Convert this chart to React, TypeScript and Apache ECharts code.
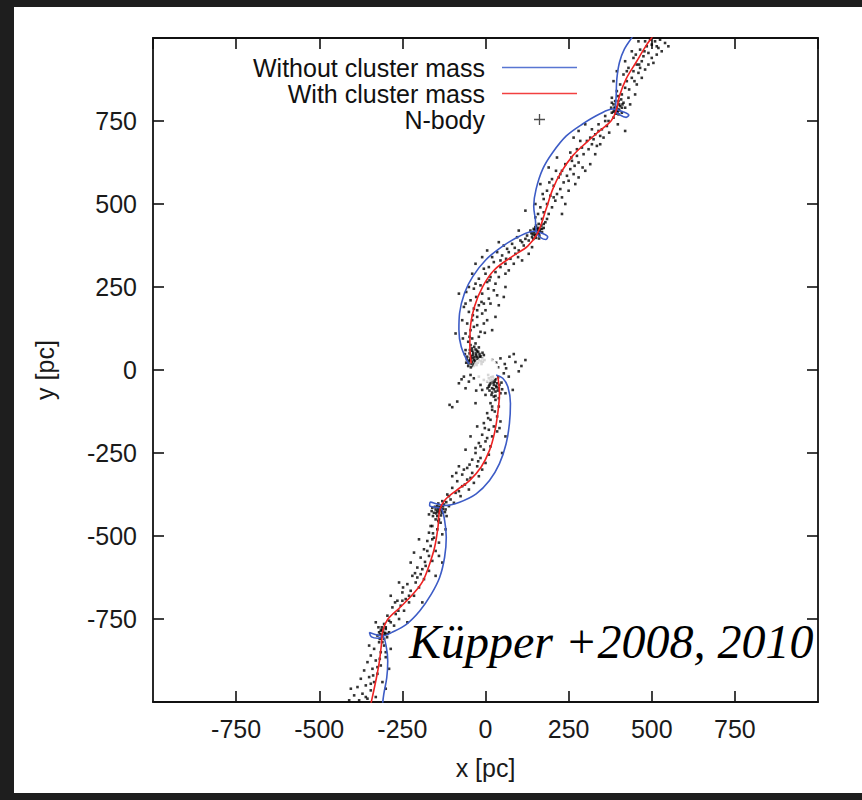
import React, { useEffect, useRef } from "react";
import * as echarts from "echarts";

// Axis range and tick spacing (pc)
const AXIS_MIN = -1000;
const AXIS_MAX = 1000;
const TICK_STEP = 250;

const SERIES_NO_MASS = "Without cluster mass";
const SERIES_MASS = "With cluster mass";
const SERIES_NBODY = "N-body";
const CREDIT = "Küpper +2008, 2010";

// Epicyclic orbit tracks, leading (upper) and trailing (lower) arms, [x, y] in pc
const noMassLeading: [number, number][] = [
  [-50, 18], [-73, 70], [-80, 121], [-78, 171], [-63, 232], [-38, 282], [2, 333], [52, 373],
  [102, 403], [147, 418], [172, 411], [187, 401], [182, 393], [167, 398], [154, 413], [150, 453],
  [145, 494], [152, 544], [172, 605], [202, 655], [243, 705], [292, 741], [343, 771], [383, 786],
  [413, 778], [431, 768], [423, 761], [405, 768], [391, 781], [393, 826], [395, 877], [403, 927],
  [418, 967], [438, 998], [446, 1010],
];
const noMassTrailing: [number, number][] = [
  [32, -15], [52, -25], [67, -50], [75, -101], [72, -161], [62, -222], [42, -282], [12, -333],
  [-28, -373], [-78, -398], [-123, -408], [-148, -403], [-165, -398], [-168, -408], [-153, -413],
  [-133, -418], [-123, -453], [-118, -504], [-123, -564], [-138, -625], [-163, -675], [-198, -726],
  [-238, -766], [-283, -791], [-309, -801], [-334, -796], [-349, -791], [-343, -804], [-324, -808],
  [-309, -804], [-298, -836], [-294, -877], [-297, -927], [-306, -977], [-310, -1010],
];
const massLeading: [number, number][] = [
  [-43, 20], [-47, 70], [-46, 121], [-33, 191], [-8, 252], [27, 302], [82, 343], [127, 373],
  [157, 413], [182, 484], [202, 544], [227, 595], [262, 645], [303, 685], [343, 720], [378, 751],
  [393, 781], [403, 826], [423, 877], [453, 927], [483, 977], [498, 998], [505, 1010],
];
const massTrailing: [number, number][] = [
  [37, -20], [42, -70], [37, -130], [27, -190], [12, -242], [-13, -292], [-48, -333], [-88, -363],
  [-123, -393], [-138, -423], [-143, -474], [-153, -534], [-168, -584], [-188, -635], [-218, -675],
  [-258, -716], [-294, -751], [-309, -786], [-313, -826], [-319, -877], [-328, -927], [-343, -998],
  [-346, -1010],
];

// N-body particle positions, [x, y] in pc
const nBodyLeading: [number, number][] = [
  [-40, 25], [-35, 30], [-30, 22], [-45, 35], [-25, 40], [-50, 28], [-20, 30], [-38, 45], [-28, 50],
  [-15, 42], [-42, 18], [-33, 38], [-22, 55], [-48, 50], [-10, 35], [-55, 40], [-30, 62], [-18, 48],
  [-8, 25], [-36, 12], [-52, 12], [-44, 8], [-27, 15], [-58, 22], [-40, 58], [-12, 18], [-5, 45],
  [-62, 48], [-34, 70], [-20, 68], [20, 30], [32, 22], [45, 35], [58, 18], [72, 40], [90, 24],
  [108, 12], [120, 30], [62, 5], [38, 8], [85, 48], [100, -4], [-60, 60], [-45, 75], [-68, 95],
  [-90, 110], [-46, 30], [-39, 36], [-31, 28], [-24, 34], [-17, 40], [-43, 42], [-51, 20],
  [-29, 44], [-37, 52], [-14, 26], [-23, 22], [-47, 60], [-9, 52], [-3, 30], [-56, 32], [-26, 58],
  [-34, 18], [-41, 65],
  [-52, 85], [-40, 95], [-30, 80], [-20, 100], [-60, 110], [-45, 120], [-35, 130], [-15, 115],
  [-5, 140], [-55, 140], [-40, 150], [-25, 160], [-10, 170], [5, 150], [-50, 175], [-35, 185],
  [-20, 195], [0, 180], [15, 200], [-45, 210], [-28, 220], [-10, 230], [10, 215], [25, 240],
  [-35, 245], [-15, 255], [5, 265], [30, 260], [-65, 190], [-70, 150], [40, 195], [55, 220],
  [20, 120], [-80, 230], [-48, 100], [-38, 165], [-12, 205], [-58, 235], [8, 245], [35, 225],
  [-25, 135], [-2, 112], [30, 160], [60, 250], [-30, 260], [-50, 250], [-60, 200], [-25, 180],
  [-5, 200], [12, 270], [40, 280],
  [-20, 275], [0, 290], [15, 280], [30, 295], [45, 310], [10, 310], [60, 320], [-5, 305], [25, 325],
  [75, 335], [50, 345], [90, 350], [35, 355], [65, 365], [100, 360], [115, 375], [80, 380],
  [130, 390], [140, 400], [120, 395], [150, 405], [145, 415], [160, 420], [155, 410], [165, 425],
  [150, 430], [170, 415], [135, 420], [-10, 340], [5, 360], [40, 385], [95, 400], [110, 330],
  [130, 350], [60, 290], [-30, 320], [100, 420], [152, 398], [158, 428], [162, 405], [148, 422],
  [168, 435], [175, 428], [142, 408], [85, 320], [20, 340], [70, 300], [140, 370], [55, 375],
  [105, 390], [-40, 290], [70, 355], [45, 330], [88, 368], [110, 385], [125, 405], [98, 340],
  [62, 335], [153, 418], [160, 412], [149, 408], [163, 418], [156, 424], [145, 425], [170, 425],
  [138, 412], [161, 396], [152, 435], [144, 395], [175, 440],
  [160, 440], [170, 455], [180, 445], [150, 460], [175, 475], [190, 470], [165, 490], [185, 500],
  [200, 490], [210, 510], [175, 515], [195, 525], [215, 530], [185, 540], [205, 555], [225, 545],
  [235, 565], [200, 575], [220, 580], [245, 585], [230, 600], [255, 605], [265, 590], [240, 620],
  [260, 630], [280, 625], [275, 645], [295, 650], [255, 655], [290, 670], [310, 665], [305, 690],
  [325, 695], [285, 690], [330, 710], [345, 705], [320, 725], [350, 725], [365, 735], [340, 740],
  [370, 750], [385, 760], [360, 765], [380, 775], [395, 780], [390, 790], [400, 785], [405, 795],
  [385, 800], [410, 775], [230, 520], [250, 540], [270, 560], [280, 580], [300, 600], [315, 620],
  [240, 500], [150, 500], [165, 560], [190, 610], [215, 640], [265, 700], [300, 740], [420, 720],
  [280, 720], [330, 650], [345, 680], [120, 480], [230, 470], [158, 470], [172, 530], [192, 565],
  [212, 600], [250, 570], [268, 615], [292, 610], [335, 675], [355, 700], [372, 715], [398, 740],
  [392, 772], [402, 800], [388, 782], [378, 790], [185, 455], [205, 520], [225, 590], [258, 640],
  [275, 665], [315, 700], [340, 720], [360, 750], [320, 680], [392, 785], [397, 778], [388, 790],
  [402, 782], [395, 792], [385, 778], [410, 790], [400, 770], [380, 805], [412, 800], [390, 810],
  [420, 790],
  [400, 810], [410, 830], [395, 840], [420, 850], [430, 820], [405, 860], [425, 870], [440, 880],
  [415, 890], [445, 900], [460, 895], [430, 910], [455, 920], [470, 930], [445, 940], [475, 945],
  [490, 955], [465, 965], [485, 975], [500, 980], [480, 990], [510, 990], [520, 970], [500, 940],
  [530, 960], [455, 860], [470, 880], [385, 870], [395, 900], [420, 930], [440, 960], [460, 990],
  [540, 985], [505, 925], [380, 820], [435, 800], [450, 830], [490, 920], [515, 950], [408, 815],
  [398, 825], [415, 805], [465, 910], [480, 905], [525, 995], [550, 975], [432, 845], [448, 870],
  [462, 920], [478, 960], [495, 995], [515, 975], [425, 900], [452, 950],
];
const nBodyTrailing: [number, number][] = [
  [10, -25], [20, -30], [30, -28], [15, -40], [25, -45], [35, -40], [5, -35], [40, -55], [20, -55],
  [30, -65], [10, -50], [-5, -30], [22, -20], [28, -35], [38, -22], [12, -62], [45, -70], [18, -75],
  [32, -48], [8, -15], [48, -38], [25, -58], [-20, -20], [-35, -25], [-50, -35], [-65, -20],
  [-80, -40], [-60, -55], [-45, -15], [-72, -28], [55, -10], [70, -20], [60, -70], [-10, -60],
  [0, -75], [25, -80], [-30, -100], [-85, -95], [-108, -105], [-100, -112], [82, -60],
  [15, -32], [24, -38], [33, -52], [12, -45], [27, -27], [37, -62], [20, -68], [42, -45], [6, -55],
  [17, -22], [50, -58], [30, -78], [40, -85], [-15, -45], [-28, -62],
  [30, -90], [15, -100], [40, -110], [20, -120], [5, -130], [35, -140], [15, -150], [45, -155],
  [-5, -160], [25, -170], [10, -180], [35, -185], [-10, -195], [20, -200], [0, -215], [-20, -220],
  [15, -230], [-5, -240], [-30, -250], [10, -255], [-15, -265], [-40, -270], [0, -280], [-25, -290],
  [-55, -295], [-10, -300], [-40, -310], [-70, -315], [-20, -320], [-55, -330], [-85, -335],
  [-35, -340], [-70, -350], [-100, -355], [-50, -360], [-90, -370], [-115, -375], [-75, -380],
  [-105, -390], [-130, -395], [-95, -400], [-125, -405], [-145, -410], [-135, -415], [-150, -420],
  [-140, -425], [-130, -430], [-155, -430], [-145, -440], [-160, -415], [-120, -420], [-170, -435],
  [-110, -410], [-60, -240], [-45, -200], [-25, -170], [60, -200], [50, -250], [-80, -290],
  [-100, -320], [28, -125], [42, -175], [-15, -230], [-48, -285], [-62, -345], [-118, -398],
  [-138, -412], [-148, -432], [-128, -418], [-142, -402], [-162, -425], [5, -205], [-88, -310],
  [20, -110], [8, -145], [-2, -175], [-30, -235], [-22, -275], [-65, -300], [-45, -325],
  [-110, -380], [-80, -365], [-136, -420], [-142, -418], [-131, -424], [-146, -426], [-139, -430],
  [-128, -410], [-152, -412], [-134, -438], [-122, -428], [-158, -440], [-140, -450], [-117, -440],
  [-150, -450], [-135, -460], [-160, -470], [-145, -480], [-170, -490], [-130, -495], [-155, -505],
  [-175, -515], [-140, -520], [-165, -530], [-185, -540], [-150, -545], [-170, -560], [-195, -565],
  [-160, -575], [-180, -590], [-205, -595], [-170, -605], [-195, -615], [-220, -620], [-185, -630],
  [-210, -640], [-235, -645], [-200, -655], [-225, -665], [-250, -670], [-215, -680], [-240, -690],
  [-265, -695], [-230, -700], [-255, -710], [-280, -715], [-245, -725], [-270, -735], [-295, -740],
  [-260, -750], [-285, -760], [-305, -765], [-275, -770], [-300, -780], [-315, -785], [-295, -795],
  [-310, -800], [-320, -790], [-305, -810], [-120, -480], [-200, -510], [-225, -580], [-130, -580],
  [-150, -620], [-260, -640], [-285, -680], [-190, -700], [-235, -760], [-330, -760], [-215, -550],
  [-142, -455], [-158, -492], [-182, -578], [-212, -612], [-248, -655], [-272, -700], [-302, -792],
  [-312, -775], [-325, -800], [-160, -510], [-175, -545], [-190, -600], [-205, -625], [-230, -680],
  [-250, -695], [-262, -725], [-290, -755], [-165, -470], [-140, -560], [-308, -788], [-312, -782],
  [-303, -795], [-316, -796], [-300, -775], [-318, -810], [-296, -805], [-322, -775], [-310, -820],
  [-290, -790],
  [-320, -820], [-305, -830], [-335, -840], [-315, -850], [-345, -860], [-300, -865], [-330, -875],
  [-355, -880], [-315, -890], [-340, -900], [-365, -905], [-325, -915], [-350, -925], [-375, -930],
  [-335, -940], [-360, -950], [-385, -955], [-345, -965], [-370, -975], [-395, -980], [-355, -990],
  [-380, -995], [-290, -900], [-300, -960], [-405, -960], [-285, -840], [-350, -830], [-310, -940],
  [-330, -985], [-410, -995], [-300, -850], [-325, -895], [-345, -945], [-360, -985], [-318, -870],
  [-338, -920],
];

// Masked cluster centre
const clusterCentre: [number, number][] = [[0, 0]];

const SANS = "'Liberation Sans', Arial, Helvetica, sans-serif";
const BLUE = "#3d5cc6";
const RED = "#ee2222";
const PLUS_ICON = "path://M4.4,0H5.6V4.4H10V5.6H5.6V10H4.4V5.6H0V4.4H4.4Z";
const LINE_ICON = "path://M0,0H75V1.6H0Z";

const frameAxis = {
  min: AXIS_MIN,
  max: AXIS_MAX,
  interval: TICK_STEP,
  axisLine: { show: true, onZero: false, lineStyle: { color: "#111", width: 1.8 } },
  axisTick: { show: true, inside: true, length: 11, lineStyle: { color: "#111", width: 1.6 } },
  splitLine: { show: false },
};

export default function App() {
  const ref = useRef<HTMLDivElement>(null);

  useEffect(() => {
    if (!ref.current) return;
    const chart = echarts.init(ref.current, undefined, { renderer: "svg" });
    const lineBase = {
      type: "line" as const,
      symbol: "none",
      showSymbol: false,
      smooth: 0.35,
      xAxisIndex: 0,
      yAxisIndex: 0,
      z: 4,
    };
    chart.setOption({
      animation: false,
      backgroundColor: "#1e1e1e",
      graphic: [
        {
          type: "rect",
          z: -100,
          silent: true,
          shape: { x: 14, y: 7, width: 848, height: 786 },
          style: { fill: "#ffffff" },
        },
        {
          type: "text",
          z: 100,
          silent: true,
          x: 409,
          y: 641,
          style: {
            text: CREDIT,
            font: "italic 48px 'Liberation Serif', 'Times New Roman', serif",
            fill: "#000",
            verticalAlign: "middle",
          },
        },
      ],
      grid: { left: 153, right: 44, top: 38, bottom: 98, containLabel: false },
      legend: {
        orient: "vertical",
        align: "right",
        right: 280,
        top: 50,
        padding: 5,
        itemWidth: 75,
        itemHeight: 11,
        itemGap: 1,
        selectedMode: false,
        textStyle: {
          fontFamily: SANS,
          fontSize: 25,
          lineHeight: 25,
          color: "#111",
          padding: [0, 12, 0, 0],
        },
        data: [
          { name: SERIES_NO_MASS, icon: LINE_ICON, itemStyle: { color: "#5876d2" } },
          { name: SERIES_MASS, icon: LINE_ICON, itemStyle: { color: "#f24040" } },
          { name: SERIES_NBODY, icon: PLUS_ICON, itemStyle: { color: "#222" } },
        ],
      },
      xAxis: [
        {
          ...frameAxis,
          type: "value",
          position: "bottom",
          name: "x [pc]",
          nameLocation: "middle",
          nameGap: 53,
          nameTextStyle: { fontFamily: SANS, fontSize: 25, color: "#1a1a1a" },
          axisLabel: {
            show: true,
            margin: 14,
            showMinLabel: false,
            showMaxLabel: false,
            fontFamily: SANS,
            fontSize: 25,
            color: "#1a1a1a",
          },
        },
        { ...frameAxis, type: "value", position: "top", axisLabel: { show: false } },
      ],
      yAxis: [
        {
          ...frameAxis,
          type: "value",
          position: "left",
          name: "y [pc]",
          nameLocation: "middle",
          nameGap: 96,
          nameTextStyle: { fontFamily: SANS, fontSize: 25, color: "#1a1a1a" },
          axisLabel: {
            show: true,
            margin: 16,
            showMinLabel: false,
            showMaxLabel: false,
            fontFamily: SANS,
            fontSize: 25,
            color: "#1a1a1a",
          },
        },
        { ...frameAxis, type: "value", position: "right", axisLabel: { show: false } },
      ],
      series: [
        {
          ...lineBase,
          name: SERIES_NO_MASS,
          data: noMassLeading,
          lineStyle: { color: BLUE, width: 1.6 },
          itemStyle: { color: BLUE },
        },
        {
          ...lineBase,
          name: SERIES_NO_MASS,
          data: noMassTrailing,
          lineStyle: { color: BLUE, width: 1.6 },
          itemStyle: { color: BLUE },
        },
        {
          ...lineBase,
          name: SERIES_MASS,
          data: massLeading,
          lineStyle: { color: RED, width: 1.6 },
          itemStyle: { color: RED },
          z: 5,
        },
        {
          ...lineBase,
          name: SERIES_MASS,
          data: massTrailing,
          lineStyle: { color: RED, width: 1.6 },
          itemStyle: { color: RED },
          z: 5,
        },
        {
          type: "scatter",
          name: SERIES_NBODY,
          data: [...nBodyLeading, ...nBodyTrailing],
          symbol: "rect",
          symbolSize: 2.6,
          itemStyle: { color: "#000" },
          z: 2,
        },
        {
          type: "scatter",
          name: "core",
          data: clusterCentre,
          symbol: "circle",
          symbolSize: 26,
          itemStyle: { color: "#ffffff" },
          z: 3,
          silent: true,
        },
      ],
    });
    return () => chart.dispose();
  }, []);

  return (
    <div
      ref={ref}
      style={{ position: "fixed", left: 0, top: 0, width: 862, height: 800 }}
    />
  );
}
